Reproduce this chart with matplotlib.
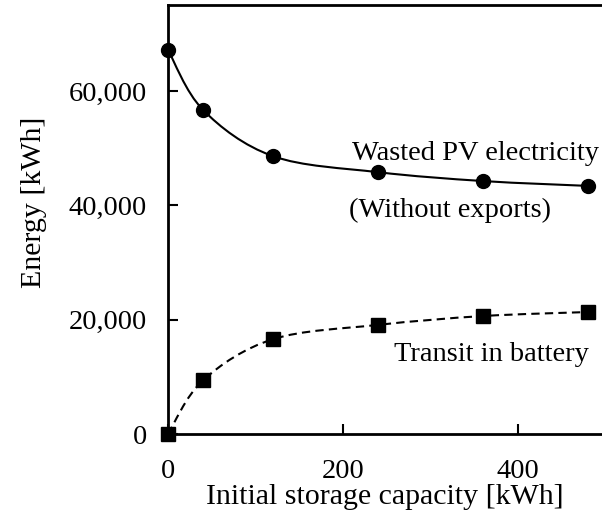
import matplotlib
matplotlib.use("Agg")
import matplotlib.pyplot as plt
from matplotlib.path import Path
from matplotlib.patches import PathPatch
from matplotlib.ticker import FuncFormatter

capacity = [0, 40, 120, 240, 360, 480]
wasted_pv = [67200, 56700, 48600, 45800, 44250, 43400]
transit = [0, 9400, 16600, 19100, 20650, 21350]


def smooth_path(xs, ys):
    # Excel-like smoothed line: Catmull-Rom segments as cubic Bezier curves
    pts = list(zip(xs, ys))
    verts = [pts[0]]
    codes = [Path.MOVETO]
    n = len(pts)
    for i in range(n - 1):
        p0 = pts[i - 1] if i > 0 else pts[i]
        p1 = pts[i]
        p2 = pts[i + 1]
        p3 = pts[i + 2] if i + 2 < n else pts[i + 1]
        c1 = (p1[0] + (p2[0] - p0[0]) / 6, p1[1] + (p2[1] - p0[1]) / 6)
        c2 = (p2[0] - (p3[0] - p1[0]) / 6, p2[1] - (p3[1] - p1[1]) / 6)
        verts += [c1, c2, p2]
        codes += [Path.CURVE4] * 3
    return Path(verts, codes)


plt.rcParams["font.family"] = ["Liberation Serif", "DejaVu Serif"]
plt.rcParams["font.size"] = 20.5

fig = plt.figure(figsize=(6.02, 5.15), dpi=100)
ax = fig.add_axes([0.279, 0.157, 0.721, 0.833])

ax.add_patch(PathPatch(smooth_path(capacity, wasted_pv), fill=False,
                       color="black", lw=1.5, zorder=2))
ax.add_patch(PathPatch(smooth_path(capacity, transit), fill=False,
                       color="black", lw=1.5, ls=(0, (4, 2.5)), zorder=2))
ax.plot(capacity, wasted_pv, "o", color="black", ms=10, zorder=3, clip_on=False)
ax.plot(capacity, transit, "s", color="black", ms=9.5, zorder=3, clip_on=False)

ax.text(352, 49000, "Wasted PV electricity", ha="center", va="center")
ax.text(322, 39200, "(Without exports)", ha="center", va="center")
ax.text(370, 14000, "Transit in battery", ha="center", va="center")

ax.set_xlim(0, 496)
ax.set_ylim(0, 75000)
ax.set_xticks([0, 200, 400])
ax.set_yticks([0, 20000, 40000, 60000])
ax.yaxis.set_major_formatter(FuncFormatter(lambda v, p: f"{int(v):,}"))
ax.tick_params(direction="in", length=7, width=1.5, labelsize=20.5)
ax.tick_params(axis="x", pad=18)
ax.tick_params(axis="y", pad=15)
ax.set_xlabel("Initial storage capacity [kWh]", fontsize=21.5, labelpad=0)
ax.set_ylabel("Energy [kWh]", fontsize=21.5, labelpad=16, y=0.54)

for side in ["left", "bottom", "top"]:
    ax.spines[side].set_linewidth(2)
ax.spines["right"].set_visible(False)

fig.savefig("out.png", dpi=100)
